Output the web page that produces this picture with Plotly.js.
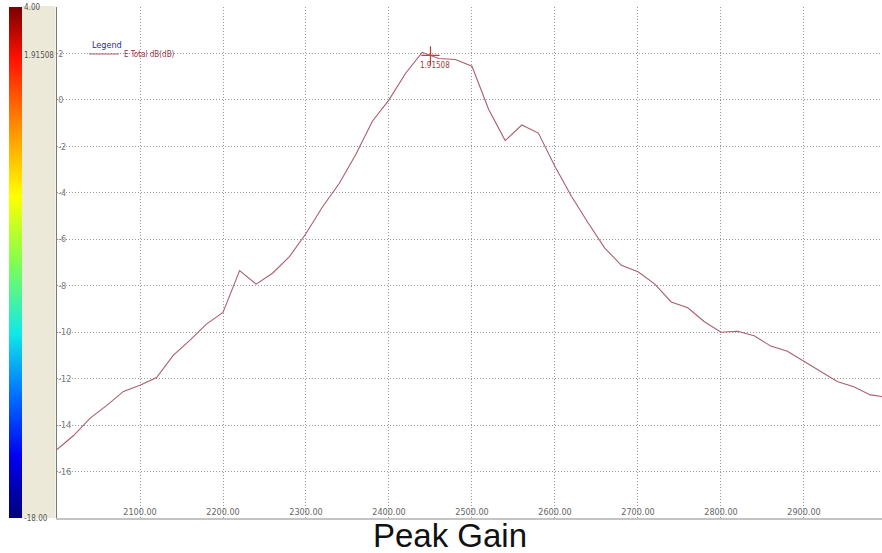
<!DOCTYPE html>
<html>
<head>
<meta charset="utf-8">
<script src="https://cdn.plot.ly/plotly-3.0.1.min.js"></script>
<style>html,body{margin:0;padding:0;background:#fff;}#chart{width:882px;height:553px;}</style>
</head>
<body>
<div id="chart"></div>
<script>
// Frequency (MHz) and total gain (dB)
const freq = [2000,2020,2040,2060,2080,2100,2120,2140,2160,2180,2200,2220,2240,2260,2280,2300,2320,2340,2360,2380,2400,2420,2440,2450,2460,2480,2500,2520,2540,2560,2580,2600,2620,2640,2660,2680,2700,2720,2740,2760,2780,2800,2820,2840,2860,2880,2900,2920,2940,2960,2980,3000];
const gain = [-15.05,-14.45,-13.7,-13.15,-12.55,-12.28,-11.95,-11.0,-10.35,-9.65,-9.15,-7.35,-7.93,-7.45,-6.75,-5.75,-4.6,-3.6,-2.35,-0.92,0.0,1.15,2.05,1.91508,1.78,1.74,1.45,-0.4,-1.75,-1.08,-1.43,-2.87,-4.16,-5.3,-6.38,-7.12,-7.4,-7.92,-8.7,-8.95,-9.55,-10.0,-9.96,-10.15,-10.6,-10.82,-11.25,-11.66,-12.12,-12.35,-12.7,-12.8];

const markerFreq = [2450];
const markerGain = [1.91508];
const markerLabel = "1.91508";

const xTickVals = [2100,2200,2300,2400,2500,2600,2700,2800,2900,3000];
const xTickText = ["2100.00","2200.00","2300.00","2400.00","2500.00","2600.00","2700.00","2800.00","2900.00","3000.00"];
const yTickVals = [4,2,0,-2,-4,-6,-8,-10,-12,-14,-16];
const yTickText = ["4","2","0","-2","-4","-6","-8","-10","-12","-14","-16"];
const scaleTickVals = [-18, 1.91508, 4];
const scaleTickText = ["-18.00","1.91508","4.00"];
const scaleMin = -18, scaleMax = 4;

const seriesName = "E Total dB(dB)";
const legendTitle = "Legend";
const chartTitle = "Peak Gain";

const W = 882, H = 553, L = 57, R = 0, T = 7, B = 35;
const PW = W - L - R, PH = H - T - B;
const px2paperX = p => (p - L) / PW;
const px2paperY = p => (H - B - p) / PH;

const smallFont = "Liberation Sans Narrow, DejaVu Sans Condensed, Arial, sans-serif";

const jet = [
  [0.0, "#00007a"],
  [0.12, "#0000f0"],
  [0.24, "#0070ff"],
  [0.36, "#10e8e8"],
  [0.5, "#80ff50"],
  [0.63, "#ffff00"],
  [0.78, "#ff8000"],
  [0.9, "#ff1000"],
  [1.0, "#7a0000"]
];

const traces = [
  {
    x: freq, y: gain, type: "scatter", mode: "lines",
    name: seriesName,
    line: {color: "#a8606c", width: 1.1},
    showlegend: true,
    hoverinfo: "x+y"
  },
  {
    x: freq, y: gain, type: "scatter", mode: "markers",
    showlegend: false, hoverinfo: "skip",
    marker: {
      size: 1, opacity: 0, color: gain,
      cmin: scaleMin, cmax: scaleMax, colorscale: jet, showscale: true,
      colorbar: {
        x: px2paperX(9), xanchor: "left", xref: "paper",
        y: 0.5, yanchor: "middle", len: 1, lenmode: "fraction",
        thickness: 13, thicknessmode: "pixels",
        xpad: 0, ypad: 0, outlinewidth: 0, borderwidth: 0,
        ticks: "", tickvals: scaleTickVals, ticktext: scaleTickText,
        tickfont: {family: smallFont, size: 8, color: "#555"}
      }
    }
  },
  {
    x: markerFreq, y: markerGain, type: "scatter", mode: "markers",
    showlegend: false, hoverinfo: "x+y",
    marker: {symbol: "cross-thin", size: 13, color: "#c83a3a", line: {color: "#c83a3a", width: 1.2}}
  }
];

const layout = {
  width: W, height: H,
  margin: {l: L, r: R, t: T, b: B, pad: 0},
  paper_bgcolor: "#ffffff",
  plot_bgcolor: "#ffffff",
  font: {family: "Liberation Sans, Arial, sans-serif"},
  title: {
    text: chartTitle,
    font: {family: "Liberation Sans, Arial, sans-serif", size: 33, color: "#111"},
    x: 450 / W, xref: "container", xanchor: "center",
    y: (H - 535) / H, yref: "container", yanchor: "middle"
  },
  xaxis: {
    range: [2000, 2994],
    tickmode: "array", tickvals: xTickVals, ticktext: xTickText,
    ticklabelposition: "inside", ticks: "",
    tickfont: {family: smallFont, size: 9, color: "#666"},
    showgrid: true, gridcolor: "#999999", griddash: "1px,2px", gridwidth: 1,
    zeroline: false,
    showline: true, linecolor: "#c4c4c4", linewidth: 2,
    fixedrange: true
  },
  yaxis: {
    range: [-18, 4],
    tickmode: "array", tickvals: yTickVals, ticktext: yTickText,
    ticklabelposition: "inside", ticks: "",
    tickfont: {family: smallFont, size: 9, color: "#777"},
    showgrid: true, gridcolor: "#999999", griddash: "1px,2px", gridwidth: 1,
    zeroline: false,
    showline: true, linecolor: "#7a7a7a", linewidth: 1.5,
    fixedrange: true
  },
  showlegend: true,
  legend: {
    x: px2paperX(84), xanchor: "left",
    y: px2paperY(54), yanchor: "middle",
    bgcolor: "rgba(0,0,0,0)", borderwidth: 0,
    font: {family: smallFont, size: 8, color: "#8b3a48"},
    itemwidth: 30, tracegroupgap: 0
  },
  shapes: [
    {
      type: "rect", xref: "paper", yref: "paper",
      x0: px2paperX(22), x1: px2paperX(55.5), y0: 0, y1: 1.002,
      fillcolor: "#ece9d8", line: {width: 0}, layer: "below"
    }
  ],
  annotations: [
    {
      x: px2paperX(90), y: px2paperY(45), xref: "paper", yref: "paper",
      text: legendTitle, showarrow: false, xanchor: "left", yanchor: "middle",
      font: {family: smallFont, size: 9, color: "#2b2b8c"}
    },
    {
      x: markerFreq[0] + 5, y: markerGain[0], xref: "x", yref: "y",
      text: markerLabel, showarrow: false, yshift: -10,
      xanchor: "center", yanchor: "middle",
      font: {family: smallFont, size: 8, color: "#a03a3a"}
    }
  ]
};

Plotly.newPlot("chart", traces, layout, {displayModeBar: false, staticPlot: true});
</script>
</body>
</html>
